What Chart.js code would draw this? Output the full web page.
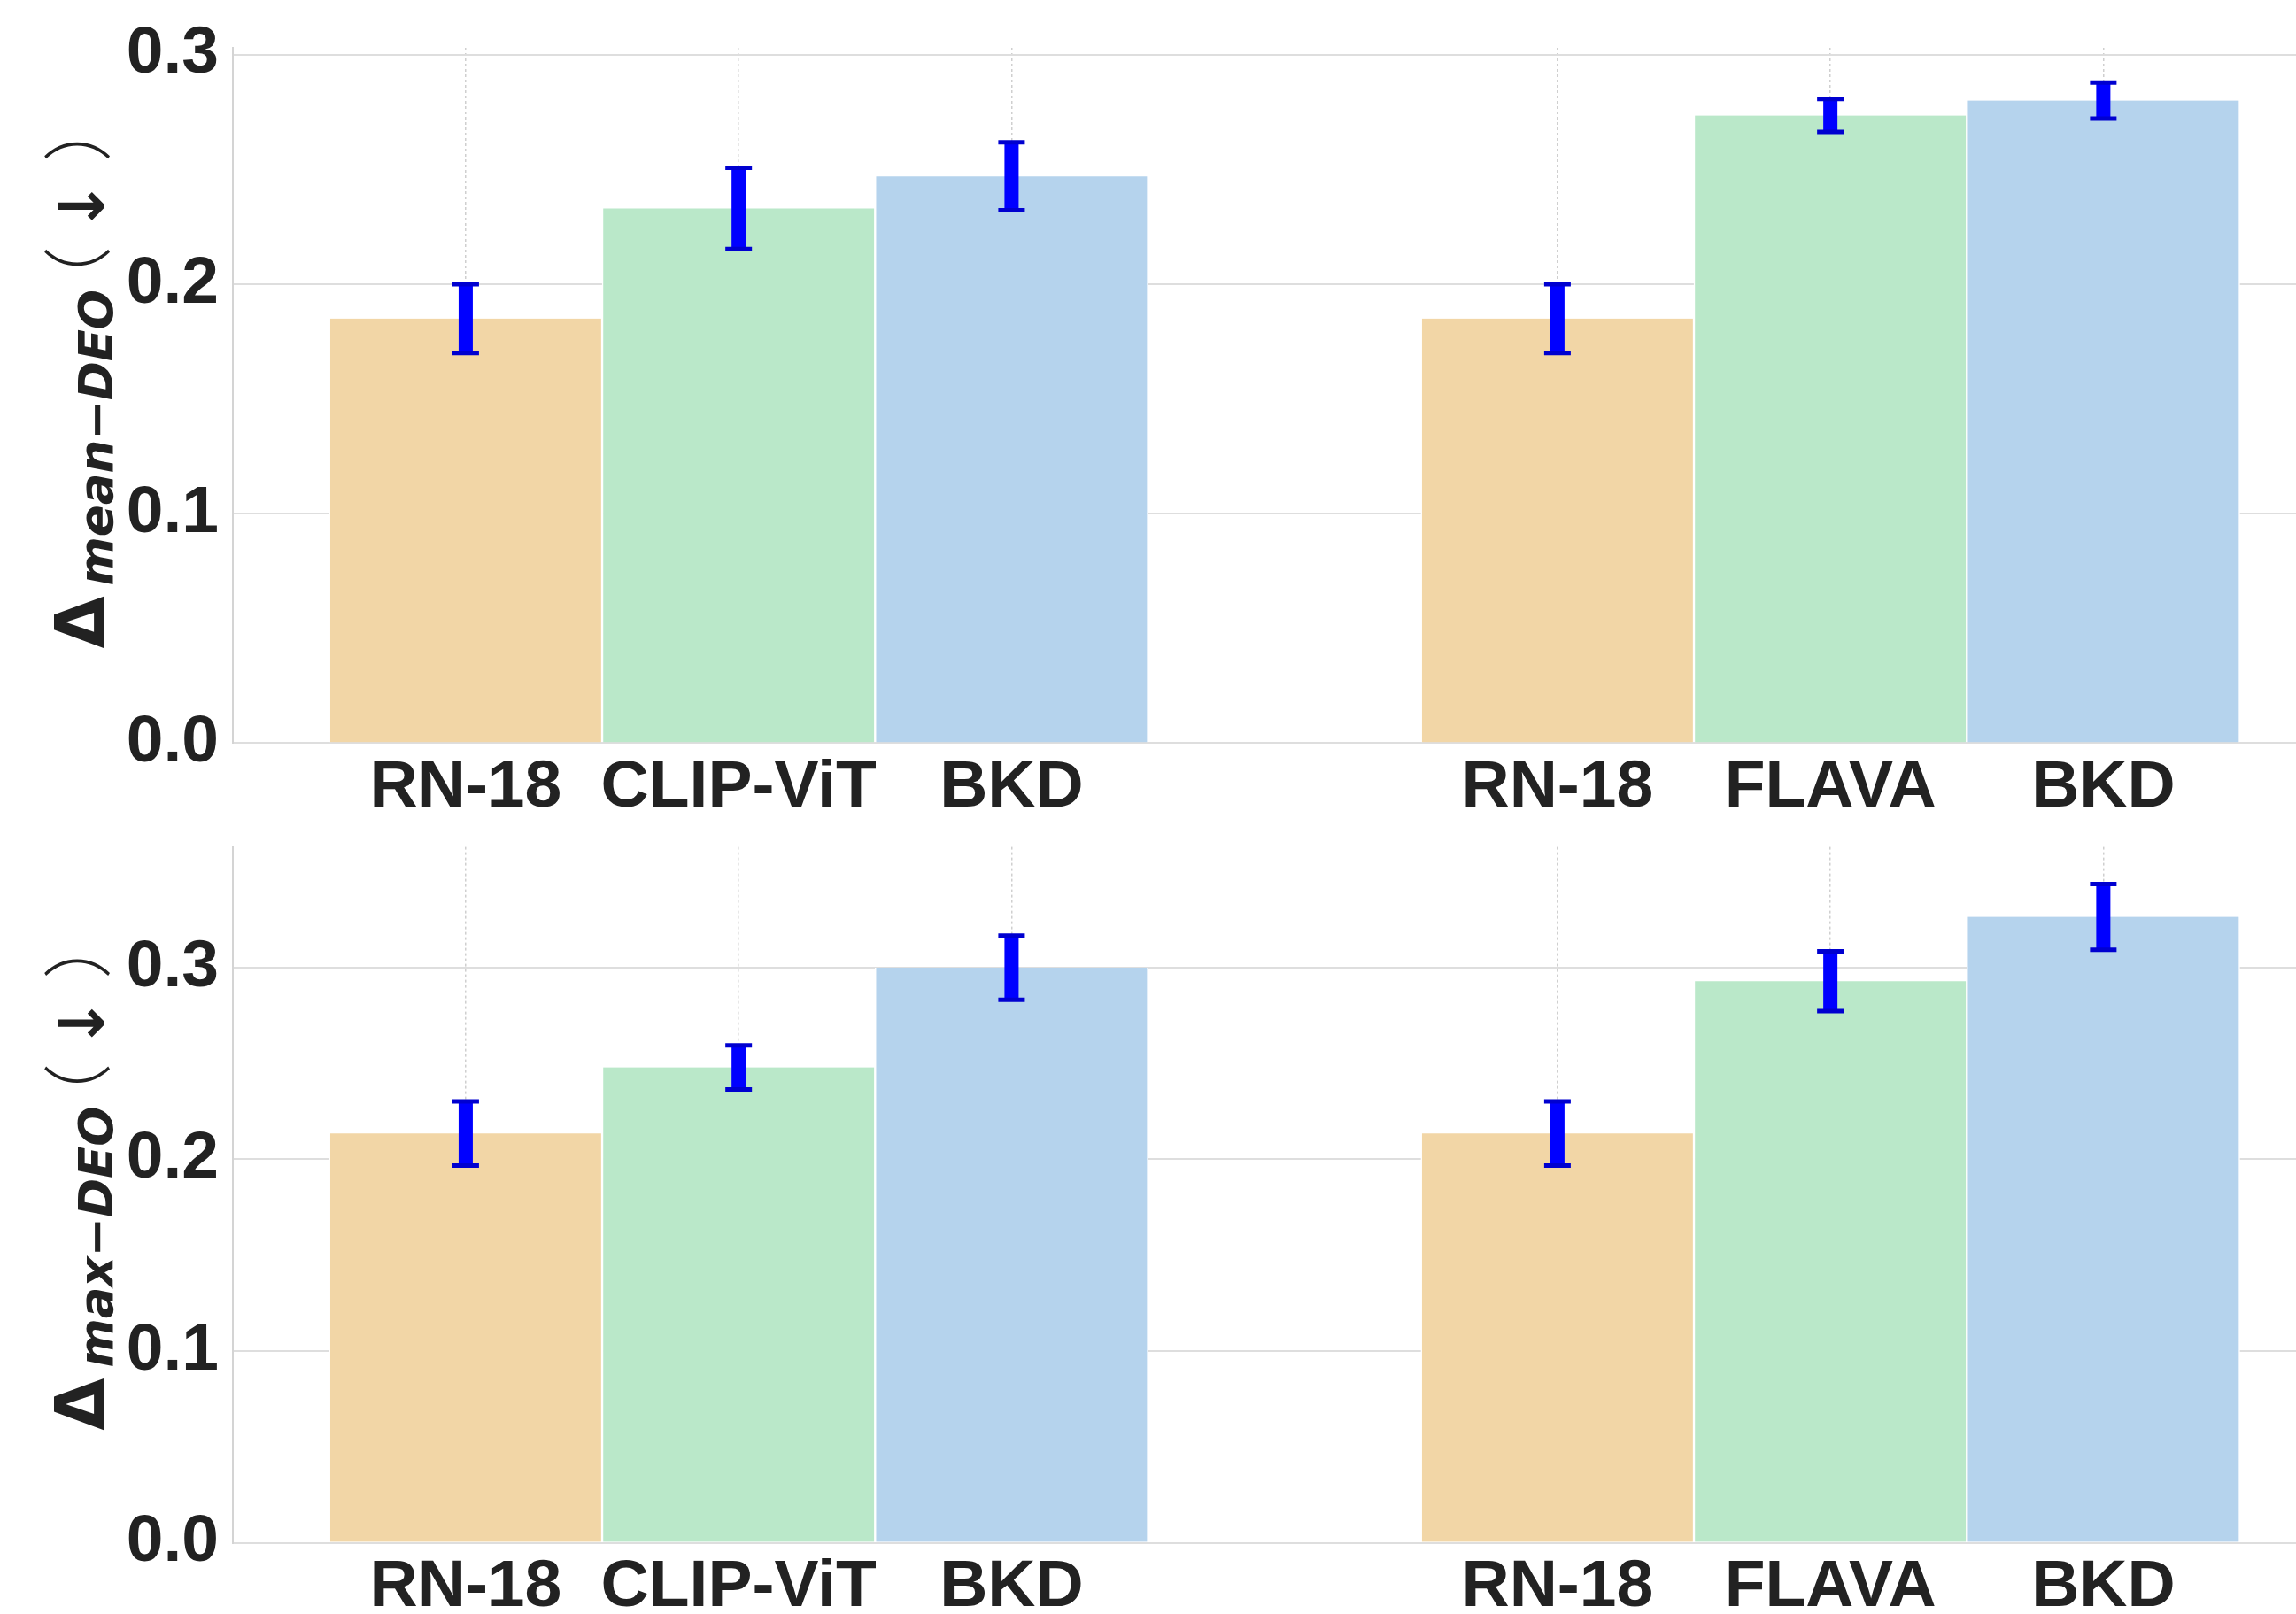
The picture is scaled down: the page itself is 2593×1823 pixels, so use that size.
<!DOCTYPE html>
<html><head><meta charset="utf-8">
<script src="https://cdn.jsdelivr.net/npm/chart.js@4.4.1/dist/chart.umd.min.js"></script>
<style>
html,body{margin:0;padding:0;background:#fff;overflow:hidden;}
#wrap{position:relative;width:2593px;height:1823px;background:#fff;}
.pane{position:absolute;left:0;width:2593px;}
</style></head><body>
<div id="wrap">
<div class="pane" style="top:0;height:930px"><canvas id="c1"></canvas></div>
<div class="pane" style="top:930px;height:893px"><canvas id="c2"></canvas></div>
</div>
<script>
// ---- data ----
const categories = ['RN-18', 'CLIP-ViT', 'BKD', 'RN-18', 'FLAVA', 'BKD'];
const slots = [0, 1, 2, 4, 5, 6];
const meanDEO = [0.185, 0.233, 0.247, 0.185, 0.2735, 0.280];
const meanDEOErr = [0.015, 0.0177, 0.0148, 0.015, 0.0072, 0.0079];
const maxDEO = [0.2135, 0.248, 0.300, 0.2135, 0.293, 0.3265];
const maxDEOErr = [0.0167, 0.0115, 0.0167, 0.0167, 0.0156, 0.0172];
const yTicks = [0, 0.1, 0.2, 0.3];
const titleMain = '\u0394';
const meanSub = 'mean\u2212DEO';
const maxSub = 'max\u2212DEO';
const titleTail = ['\uFF08', '\u2193', '\uFF09'];

// ---- styles ----
const palette = ['#f2d6a6', '#bae8c9', '#b5d3ed'];
const FONT = '"Liberation Sans", Arial, Helvetica, sans-serif';
const MATH = '"DejaVu Sans", sans-serif';

const errorBarPlugin = {
  id: 'errbars',
  afterDatasetsDraw(chart, args, opts) {
    const {ctx, scales: {x, y}} = chart;
    const vals = opts.values, errs = opts.errors;
    ctx.save();
    ctx.lineCap = 'butt';
    for (let i = 0; i < vals.length; i++) {
      const px = x.getPixelForValue(slots[i]);
      const yt = y.getPixelForValue(vals[i] + errs[i]);
      const yb = y.getPixelForValue(vals[i] - errs[i]);
      ctx.strokeStyle = '#0000ff';
      ctx.lineWidth = 16;
      ctx.beginPath(); ctx.moveTo(px, yt); ctx.lineTo(px, yb); ctx.stroke();
      ctx.strokeStyle = '#0000d0';
      ctx.lineWidth = 5;
      ctx.beginPath();
      ctx.moveTo(px - 15, yt); ctx.lineTo(px + 15, yt);
      ctx.moveTo(px - 15, yb); ctx.lineTo(px + 15, yb);
      ctx.stroke();
    }
    ctx.restore();
  }
};

function inkCenterOffset(ctx, s) {
  const m = ctx.measureText(s);
  return (m.actualBoundingBoxRight - m.actualBoundingBoxLeft) / 2;
}

const titlePlugin = {
  id: 'ytitle',
  afterDraw(chart, args, opts) {
    const {ctx, chartArea} = chart;
    const cy = (chartArea.top + chartArea.bottom) / 2;
    const bx = chartArea.left - 146;
    const mainFont = 'bold 76px ' + MATH;
    const subFont = 'italic bold 53px ' + MATH;
    const parenFont = '300 78px "Noto Sans CJK SC", sans-serif';
    const arrowFont = 'bold 70px ' + MATH;
    const tailOffsets = [36, 94, 157];
    const tailLen = 166;
    const g1 = 12;
    ctx.save();
    ctx.font = mainFont; const w1 = ctx.measureText(titleMain).width;
    ctx.font = subFont; const w2 = ctx.measureText(opts.sub).width;
    const total = w1 + g1 + w2 + tailLen;
    ctx.translate(bx, cy);
    ctx.rotate(-Math.PI / 2);
    ctx.fillStyle = '#222222';
    ctx.textBaseline = 'alphabetic';
    ctx.textAlign = 'left';
    let x0 = -total / 2;
    ctx.font = mainFont; ctx.fillText(titleMain, x0, 0); x0 += w1 + g1;
    ctx.font = subFont; ctx.fillText(opts.sub, x0, 10); x0 += w2;
    for (let k = 0; k < 3; k++) {
      ctx.font = (k === 1) ? arrowFont : parenFont;
      const c = x0 + tailOffsets[k];
      ctx.fillText(titleTail[k], c - inkCenterOffset(ctx, titleTail[k]), 0);
    }
    ctx.restore();
  }
};

function makeChart(id, values, errors, yMax, areaTop, areaBottom, paneH, sub) {
  return new Chart(document.getElementById(id), {
    type: 'bar',
    data: {
      datasets: [{
        data: slots.map((s, i) => ({x: s, y: values[i]})),
        backgroundColor: slots.map((s, i) => palette[i % 3]),
        borderColor: '#ffffff',
        borderWidth: {left: 1.5, right: 1.5, top: 0, bottom: 0},
        borderSkipped: false,
        barPercentage: 1.0,
        categoryPercentage: 1.0
      }]
    },
    options: {
      responsive: true,
      maintainAspectRatio: false,
      animation: false,
      devicePixelRatio: 1,
      layout: {padding: {left: 0, right: 0, top: areaTop, bottom: 0}},
      plugins: {
        legend: {display: false},
        tooltip: {enabled: false},
        errbars: {values: values, errors: errors},
        ytitle: {sub: sub}
      },
      scales: {
        x: {
          type: 'linear',
          min: -0.853,
          max: 6.706,
          offset: false,
          grid: {display: true, color: '#cfcfcf', lineWidth: 1.5, drawTicks: false, offset: false},
          border: {display: false, dash: [3, 3]},
          afterBuildTicks: (scale) => { scale.ticks = slots.map(v => ({value: v})); },
          ticks: {
            font: {family: FONT, size: 75, weight: 'bold'},
            color: '#222222',
            padding: 6,
            maxRotation: 0,
            autoSkip: false,
            callback: (value) => { const k = slots.indexOf(value); return k >= 0 ? categories[k] : ''; }
          },
          afterFit: (scale) => { scale.height = paneH - areaBottom; scale.paddingLeft = 0; scale.paddingRight = 0; }
        },
        y: {
          type: 'linear',
          min: 0,
          max: yMax,
          grid: {display: true, color: '#dedede', lineWidth: 2, drawTicks: false},
          border: {display: true, color: '#d4d4d4', width: 2},
          afterBuildTicks: (scale) => { scale.ticks = yTicks.map(v => ({value: v})); },
          ticks: {
            font: {family: FONT, size: 75, weight: 'bold'},
            color: '#222222',
            padding: 16,
            callback: (value) => Number(value).toFixed(1)
          },
          afterFit: (scale) => { scale.width = 263; scale.paddingTop = 0; scale.paddingBottom = 0; }
        }
      }
    },
    plugins: [errorBarPlugin, titlePlugin]
  });
}

makeChart('c1', meanDEO, meanDEOErr, 0.303, 54, 839.3, 930, meanSub);
makeChart('c2', maxDEO, maxDEOErr, 0.363, 26.6, 812.5, 893, maxSub);
</script>
</body></html>
